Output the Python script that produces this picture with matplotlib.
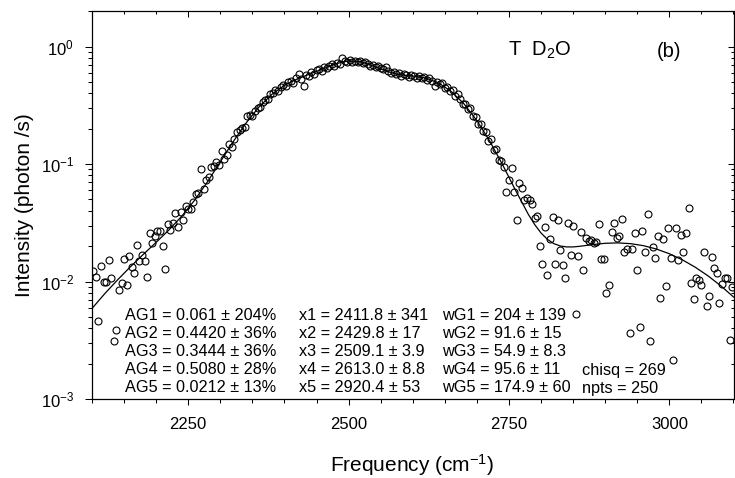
import matplotlib
matplotlib.use("Agg")
import matplotlib.pyplot as plt
from matplotlib.ticker import LogLocator, MultipleLocator, NullFormatter, FixedLocator

plt.rcParams['font.family'] = ['Liberation Sans', 'DejaVu Sans']
plt.rcParams['mathtext.fontset'] = 'custom'
plt.rcParams['mathtext.rm'] = 'Liberation Sans'
plt.rcParams['mathtext.it'] = 'Liberation Sans:italic'
plt.rcParams['mathtext.bf'] = 'Liberation Sans:bold'
plt.rcParams['axes.unicode_minus'] = False

# ---------------- data ----------------
freq = [
    2102, 2106, 2110, 2114, 2118, 2122, 2126, 2130, 2134, 2138,
    2142, 2146, 2150, 2154, 2158, 2162, 2166, 2170, 2174, 2178,
    2182, 2186, 2190, 2194, 2198, 2202, 2206, 2210, 2214, 2218,
    2222, 2226, 2230, 2234, 2238, 2242, 2246, 2250, 2254, 2258,
    2262, 2266, 2270, 2274, 2278, 2282, 2286, 2290, 2294, 2298,
    2302, 2306, 2310, 2314, 2318, 2322, 2326, 2330, 2334, 2338,
    2342, 2346, 2350, 2354, 2358, 2362, 2366, 2370, 2374, 2378,
    2382, 2386, 2390, 2394, 2398, 2402, 2406, 2410, 2414, 2418,
    2422, 2426, 2430, 2434, 2438, 2442, 2446, 2450, 2454, 2458,
    2462, 2466, 2470, 2474, 2478, 2482, 2486, 2490, 2494, 2498,
    2502, 2506, 2510, 2514, 2518, 2522, 2526, 2530, 2534, 2538,
    2542, 2546, 2550, 2554, 2558, 2562, 2566, 2570, 2574, 2578,
    2582, 2586, 2590, 2594, 2598, 2602, 2606, 2610, 2614, 2618,
    2622, 2626, 2630, 2634, 2638, 2642, 2646, 2650, 2654, 2658,
    2662, 2666, 2670, 2674, 2678, 2682, 2686, 2690, 2694, 2698,
    2702, 2706, 2710, 2714, 2718, 2722, 2726, 2730, 2734, 2738,
    2742, 2746, 2750, 2754, 2758, 2762, 2766, 2770, 2774, 2778,
    2782, 2786, 2790, 2794, 2798, 2802, 2806, 2810, 2814, 2818,
    2822, 2826, 2830, 2834, 2838, 2842, 2846, 2850, 2854, 2858,
    2862, 2866, 2870, 2874, 2878, 2882, 2886, 2890, 2894, 2898,
    2902, 2906, 2910, 2914, 2918, 2922, 2926, 2930, 2934, 2938,
    2942, 2946, 2950, 2954, 2958, 2962, 2966, 2970, 2974, 2978,
    2982, 2986, 2990, 2994, 2998, 3002, 3006, 3010, 3014, 3018,
    3022, 3026, 3030, 3034, 3038, 3042, 3046, 3050, 3054, 3058,
    3062, 3066, 3070, 3074, 3078, 3082, 3086, 3090, 3094, 3098,
]

intensity = [
    0.0123, 0.0110, 0.00463, 0.0135, 0.0099, 0.0099, 0.0154, 0.0107, 0.0031, 0.0039,
    0.0085, 0.0097, 0.0155, 0.0094, 0.0165, 0.0133, 0.0119, 0.0204, 0.0151, 0.0169,
    0.0149, 0.0109, 0.0259, 0.0214, 0.0243, 0.0268, 0.0268, 0.0201, 0.0129, 0.0312,
    0.0274, 0.0316, 0.0385, 0.0292, 0.0390, 0.0331, 0.0440, 0.0414, 0.0411, 0.0478,
    0.0553, 0.0564, 0.0906, 0.0618, 0.0734, 0.0774, 0.0942, 0.0955, 0.105, 0.0987,
    0.130, 0.110, 0.119, 0.147, 0.140, 0.162, 0.187, 0.197, 0.204, 0.206,
    0.256, 0.262, 0.255, 0.285, 0.301, 0.305, 0.338, 0.352, 0.361, 0.392,
    0.401, 0.428, 0.418, 0.452, 0.470, 0.462, 0.498, 0.508, 0.489, 0.541,
    0.580, 0.528, 0.466, 0.575, 0.562, 0.610, 0.588, 0.628, 0.641, 0.618,
    0.665, 0.652, 0.690, 0.705, 0.684, 0.731, 0.718, 0.805, 0.752, 0.741,
    0.768, 0.745, 0.762, 0.738, 0.755, 0.722, 0.733, 0.716, 0.690, 0.702,
    0.668, 0.681, 0.652, 0.640, 0.676, 0.618, 0.598, 0.612, 0.581, 0.596,
    0.568, 0.588, 0.574, 0.552, 0.579, 0.562, 0.541, 0.566, 0.538, 0.551,
    0.521, 0.540, 0.508, 0.462, 0.505, 0.478, 0.492, 0.442, 0.451, 0.418,
    0.425, 0.381, 0.392, 0.358, 0.322, 0.328, 0.292, 0.301, 0.255, 0.252,
    0.221, 0.218, 0.192, 0.188, 0.158, 0.162, 0.131, 0.134, 0.109, 0.106,
    0.095, 0.058, 0.073, 0.093, 0.0575, 0.0334, 0.0686, 0.0622, 0.0494, 0.0511,
    0.0494, 0.0455, 0.0346, 0.0364, 0.0202, 0.0140, 0.0294, 0.0114, 0.0231, 0.0357,
    0.0140, 0.0334, 0.0185, 0.0139, 0.0108, 0.0313, 0.0169, 0.0299, 0.0053, 0.0165,
    0.0266, 0.0126, 0.0233, 0.0222, 0.0226, 0.0212, 0.0219, 0.0308, 0.0156, 0.0156,
    0.00796, 0.00937, 0.0263, 0.0313, 0.0237, 0.0246, 0.0341, 0.0180, 0.0190, 0.00364,
    0.0190, 0.0258, 0.0126, 0.00409, 0.0270, 0.0177, 0.0374, 0.00309, 0.0195, 0.0160,
    0.0246, 0.0073, 0.0231, 0.00925, 0.0284, 0.0158, 0.00216, 0.0288, 0.0153, 0.0249,
    0.0180, 0.0261, 0.0426, 0.0098, 0.00713, 0.0107, 0.0103, 0.00937, 0.0180, 0.00625,
    0.0076, 0.0163, 0.0131, 0.0118, 0.00655, 0.0095, 0.0108, 0.0108, 0.00319, 0.00906,
]

# fitted curve
fit_freq = [2100, 2120, 2140, 2160, 2180, 2200, 2220, 2240, 2260, 2280,
            2300, 2320, 2340, 2360, 2380, 2400, 2420, 2440, 2460, 2480,
            2500, 2520, 2540, 2560, 2580, 2600, 2620, 2640, 2660, 2680,
            2700, 2720, 2740, 2760, 2780, 2790, 2800, 2810, 2820, 2830,
            2840, 2850, 2860, 2880, 2900, 2920, 2940, 2960, 2980, 3000,
            3020, 3040, 3060, 3080, 3100]
fit_intensity = [0.00590, 0.00790, 0.01035, 0.01338, 0.01704, 0.02158, 0.02753, 0.03605, 0.04928, 0.07066,
                 0.10455, 0.15493, 0.22313, 0.30517, 0.39113, 0.46861, 0.53122, 0.58626, 0.64816, 0.71523,
                 0.75703, 0.74200, 0.67972, 0.61425, 0.57732, 0.56168, 0.54078, 0.49158, 0.41590, 0.32516,
                 0.23459, 0.15708, 0.09887, 0.06019, 0.03750, 0.03060, 0.02590, 0.02285, 0.02103, 0.02008,
                 0.01971, 0.01972, 0.01995, 0.02062, 0.02117, 0.02134, 0.02101, 0.02019, 0.01890, 0.01725,
                 0.01534, 0.01328, 0.01121, 0.00922, 0.00739]

x_major_ticks = [2250, 2500, 2750, 3000]

col_amp = ["AG1 = 0.061 \u00b1 204%", "AG2 = 0.4420 \u00b1 36%", "AG3 = 0.3444 \u00b1 36%",
           "AG4 = 0.5080 \u00b1 28%", "AG5 = 0.0212 \u00b1 13%"]
col_pos = ["x1 = 2411.8 \u00b1 341", "x2 = 2429.8 \u00b1 17", "x3 = 2509.1 \u00b1 3.9",
           "x4 = 2613.0 \u00b1 8.8", "x5 = 2920.4 \u00b1 53"]
col_wid = ["wG1 = 204 \u00b1 139", "wG2 = 91.6 \u00b1 15", "wG3 = 54.9 \u00b1 8.3",
           "wG4 = 95.6 \u00b1 11", "wG5 = 174.9 \u00b1 60"]
col_stat = ["", "", "", "chisq = 269", "npts = 250"]

# ---------------- figure ----------------
W, H = 735, 478
fig = plt.figure(figsize=(W / 100, H / 100), dpi=100)
L, R, T, B = 92, 733.5, 11.3, 399
ax = fig.add_axes([L / W, 1 - B / H, (R - L) / W, (B - T) / H])

ax.plot(fit_freq, fit_intensity, color='black', lw=0.9, zorder=2)
ax.plot(freq, intensity, linestyle='none', marker='o', ms=5, mfc='none',
        mec='black', mew=0.8, zorder=3)

ax.set_yscale('log')
ax.set_xlim(2100, 3100)
ax.set_ylim(1e-3, 2)

ax.xaxis.set_major_locator(FixedLocator(x_major_ticks))
ax.xaxis.set_minor_locator(MultipleLocator(50))
ax.yaxis.set_major_locator(LogLocator(base=10, numticks=10))
ax.yaxis.set_minor_locator(LogLocator(base=10, subs=range(2, 10), numticks=20))
ax.yaxis.set_minor_formatter(NullFormatter())

for s in ax.spines.values():
    s.set_linewidth(0.9)

ax.tick_params(axis='x', which='major', direction='out', length=4.3, width=0.75,
               labelsize=12, pad=9, top=False)
ax.tick_params(axis='x', which='minor', direction='out', length=2.8, width=0.75, top=False)
ax.tick_params(axis='y', which='major', direction='out', length=4.8, width=0.75,
               labelsize=12, pad=8, right=False)
ax.tick_params(axis='y', which='minor', direction='out', length=2.9, width=0.75, right=False)

# inward ticks on the top and right sides
axt = ax.twiny()
axt.set_xlim(2100, 3100)
axt.xaxis.set_major_locator(FixedLocator(x_major_ticks))
axt.xaxis.set_minor_locator(MultipleLocator(50))
axt.tick_params(axis='x', which='major', direction='in', length=4.3, width=0.75,
                labeltop=False, top=True, bottom=False)
axt.tick_params(axis='x', which='minor', direction='in', length=2.4, width=0.75,
                labeltop=False, top=True, bottom=False)
for s in axt.spines.values():
    s.set_visible(False)

axr = ax.twinx()
axr.set_yscale('log')
axr.set_ylim(1e-3, 2)
axr.yaxis.set_major_locator(LogLocator(base=10, numticks=10))
axr.yaxis.set_minor_locator(LogLocator(base=10, subs=range(2, 10), numticks=20))
axr.tick_params(axis='y', which='major', direction='in', length=4.3, width=0.75,
                labelright=False, right=True, left=False)
axr.tick_params(axis='y', which='minor', direction='in', length=2.4, width=0.75,
                labelright=False, right=True, left=False)
for s in axr.spines.values():
    s.set_visible(False)

# axis labels
fig.text(412 / W, 1 - 465 / H, 'Frequency (cm$^{-1}$)', ha='center', va='center', fontsize=15)
fig.text(24 / W, 1 - 205 / H, 'Intensity (photon /s)', ha='center', va='center',
         rotation=90, fontsize=15)

# panel texts
fig.text(508 / W, 1 - 50 / H, 'T  D$_{2}$O', ha='left', va='center', fontsize=14.5)
fig.text(657 / W, 1 - 51.5 / H, '(b)', ha='left', va='center', fontsize=14.5)

# fit-parameter block
row_y = [320.0, 338.2, 356.4, 374.5, 392.5]
col_x = [125, 299, 442.5, 582]
for col, cx in zip([col_amp, col_pos, col_wid, col_stat], col_x):
    for txt, ry in zip(col, row_y):
        if txt:
            fig.text(cx / W, 1 - ry / H, txt, ha='left', va='baseline', fontsize=11.7)

fig.savefig('out.png', dpi=100)
